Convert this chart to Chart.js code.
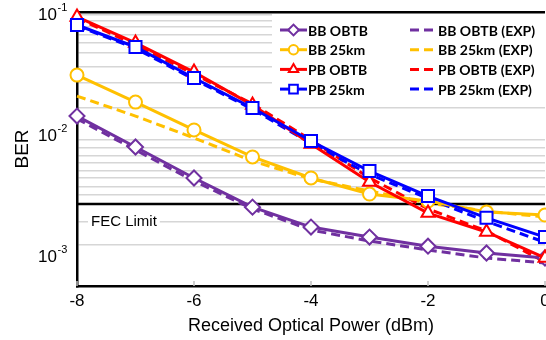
<!DOCTYPE html>
<html>
<head>
<meta charset="utf-8">
<script src="https://cdn.jsdelivr.net/npm/chart.js@4.4.1/dist/chart.umd.min.js"></script>
<style>
    html, body { margin: 0; padding: 0; background: #fff; overflow: hidden; }
    #caixa { position: absolute; left: 0; top: 0; width: 600px; height: 340px; }
</style>
</head>
<body>
<div id="caixa"><canvas id="grafico" width="600" height="340"></canvas></div>
<script>
// Received optical power (dBm)
const power = [-8, -7, -6, -5, -4, -3, -2, -1, 0];

// BER
const bbObtb    = [0.0138, 0.00766, 0.00425, 0.00244, 0.00167, 0.00138, 0.00116, 0.00102, 0.000927];
const bb25km    = [0.0301, 0.0180, 0.0106, 0.00634, 0.00425, 0.00313, 0.00274, 0.00222, 0.00210];
const pbObtb    = [0.091, 0.0555, 0.0319, 0.0170, 0.00811, 0.00394, 0.00218, 0.00152, 0.000927];
const pb25km    = [0.0781, 0.0514, 0.0285, 0.0161, 0.00859, 0.00485, 0.00301, 0.00199, 0.00138];
const bbObtbExp = [0.0131, 0.00724, 0.00401, 0.00236, 0.00158, 0.00128, 0.00108, 0.000927, 0.000843];
const bb25kmExp = [0.0202, 0.0138, 0.0091, 0.00587, 0.00417, 0.00332, 0.00264, 0.00226, 0.00202];
const pbObtbExp = [0.0892, 0.0534, 0.0307, 0.0174, 0.00875, 0.00425, 0.00236, 0.00155, 0.000859];
const pb25kmExp = [0.0770, 0.0500, 0.0278, 0.0157, 0.00820, 0.00455, 0.00288, 0.00186, 0.00125];

const fecLimit = 0.00259;

// axis
const xTicks = [-8, -6, -4, -2, 0];
const yLabels = [0.1, 0.01, 0.001];
const yLabelText = ['-1', '-2', '-3'];
const yGrid = [0.1, 0.0944, 0.0843, 0.0752, 0.0646, 0.0555, 0.0458, 0.0351, 0.0259, 0.0161,
               0.00875, 0.00752, 0.00646, 0.00565, 0.00485, 0.00425, 0.00358, 0.00307, 0.00184, 0.00119];
const yMin = 0.000544;
const yMax = 0.1;

const PURPLE = '#7030A0';
const YELLOW = '#FFC000';
const RED = '#FF0000';
const BLUE = '#0000FF';

function pontos(valores) {
    return valores.map((v, i) => ({ x: power[i], y: v }));
}

function serie(label, valores, cor, estilo, raio, tracejado, ordem) {
    return {
        label: label,
        data: pontos(valores),
        borderColor: cor,
        backgroundColor: '#fff',
        borderWidth: 3,
        borderDash: tracejado ? [9, 5] : [],
        pointStyle: estilo || 'circle',
        pointRadius: estilo ? raio : 0,
        pointBorderWidth: 2,
        pointBackgroundColor: '#fff',
        pointBorderColor: cor,
        tension: 0,
        clip: false, // markers at -8 are not cut in the original
        order: ordem,
    };
}

const datasets = [
    serie('BB OBTB', bbObtb, PURPLE, 'rectRot', 7.5, false, 3),
    serie('BB 25km', bb25km, YELLOW, 'circle', 6.5, false, 2),
    serie('PB OBTB', pbObtb, RED, 'triangle', 7.5, false, 1),
    serie('PB 25km', pb25km, BLUE, 'rect', 8.5, false, 0),
    serie('BB OBTB (EXP)', bbObtbExp, PURPLE, null, 0, true, 7),
    serie('BB 25km (EXP)', bb25kmExp, YELLOW, null, 0, true, 6),
    serie('PB OBTB (EXP)', pbObtbExp, RED, null, 0, true, 5),
    serie('PB 25km (EXP)', pb25kmExp, BLUE, null, 0, true, 4),
    {
        label: 'FEC',
        data: [{ x: -8, y: fecLimit }, { x: 0, y: fecLimit }],
        borderColor: '#000',
        borderWidth: 2.5,
        pointRadius: 0,
        order: 8,
    },
];

// legend, FEC text and y labels drawn by hand
const extras = {
    id: 'extras',
    beforeDatasetsDraw(chart) {
        const ctx = chart.ctx;
        const area = chart.chartArea;
        const escX = chart.scales.x;
        ctx.save();
        // small inside ticks on the x axis
        ctx.strokeStyle = '#bfbfbf';
        ctx.lineWidth = 1.5;
        xTicks.forEach(v => {
            const px = escX.getPixelForValue(v);
            ctx.beginPath();
            ctx.moveTo(px, area.bottom);
            ctx.lineTo(px, area.bottom - 5);
            ctx.stroke();
        });

        // FEC text
        ctx.font = '15px "Liberation Sans", Arial, sans-serif';
        ctx.textBaseline = 'middle';
        const w = ctx.measureText('FEC Limit').width;
        ctx.fillStyle = '#fff';
        ctx.fillRect(88, 213, w + 6, 18);
        ctx.fillStyle = '#000';
        ctx.fillText('FEC Limit', 91, 222);

        // legend
        ctx.fillStyle = '#fff';
        ctx.fillRect(272, 14, 330, 89);
        ctx.font = 'bold 14px Lato, sans-serif';
        ctx.textBaseline = 'middle';
        datasets.slice(0, 8).forEach((ds, i) => {
            const col = i < 4 ? 0 : 1;
            const row = i % 4;
            const x0 = col === 0 ? 280 : 410;
            const y0 = 30 + row * 19.7;
            ctx.strokeStyle = ds.borderColor;
            ctx.lineWidth = 3;
            ctx.setLineDash(ds.borderDash);
            ctx.beginPath();
            ctx.moveTo(x0, y0);
            ctx.lineTo(x0 + 27, y0);
            ctx.stroke();
            ctx.setLineDash([]);
            if (ds.pointRadius > 0) {
                ctx.fillStyle = '#fff';
                ctx.lineWidth = 2;
                Chart.helpers.drawPoint(ctx, {
                    pointStyle: ds.pointStyle,
                    radius: ds.pointRadius * 0.72,
                    rotation: 0,
                    borderWidth: 2,
                }, x0 + 13.5, y0);
            }
            ctx.fillStyle = '#000';
            ctx.fillText(ds.label, x0 + 28, y0 + 1);
        });
        ctx.restore();
    },
    afterDraw(chart) {
        const ctx = chart.ctx;
        const escY = chart.scales.y;
        ctx.save();
        ctx.fillStyle = '#000';
        ctx.textBaseline = 'middle';
        yLabels.forEach((v, i) => {
            const py = escY.getPixelForValue(v);
            ctx.font = '17px "Liberation Sans", Arial, sans-serif';
            ctx.textAlign = 'left';
            ctx.fillText('10', 38, py + 3);
            ctx.font = '11px "Liberation Sans", Arial, sans-serif';
            ctx.fillText(yLabelText[i], 57.5, py - 4);
        });
        ctx.restore();
    }
};

const grafico = new Chart(document.getElementById('grafico'), {
    type: 'line',
    data: { datasets: datasets },
    options: {
        responsive: false,
        animation: false,
        layout: { padding: { left: 0, top: 12, right: 55, bottom: 0 } },
        plugins: {
            legend: { display: false },
            tooltip: { enabled: false },
        },
        scales: {
            x: {
                type: 'linear',
                min: -8,
                max: 0,
                afterBuildTicks: (s) => { s.ticks = xTicks.map(v => ({ value: v })); },
                afterFit: (s) => { s.height = 54; },
                grid: { drawOnChartArea: false, drawTicks: false },
                border: { color: '#000', width: 2.5 },
                ticks: {
                    color: '#000',
                    padding: 5,
                    font: { family: '"Liberation Sans", Arial, sans-serif', size: 17 },
                    callback: (v) => String(v),
                },
                title: {
                    display: true,
                    text: 'Received Optical Power (dBm)',
                    color: '#000',
                    font: { family: '"Liberation Sans", Arial, sans-serif', size: 18 },
                    padding: { top: 0, bottom: 3 },
                },
            },
            y: {
                type: 'logarithmic',
                min: yMin,
                max: yMax,
                afterBuildTicks: (s) => { s.ticks = yGrid.map(v => ({ value: v })); },
                afterFit: (s) => { s.width = 77; },
                ticks: { display: false },
                grid: {
                    drawTicks: false,
                    color: (c) => (c.tick && c.tick.value >= 0.099 ? '#000' : '#d6d6d6'),
                    lineWidth: (c) => (c.tick && c.tick.value >= 0.099 ? 2.5 : 1.5),
                },
                border: { color: '#000', width: 2.5 },
                title: {
                    display: true,
                    text: 'BER',
                    color: '#000',
                    font: { family: '"Liberation Sans", Arial, sans-serif', size: 19 },
                    padding: { top: 11, bottom: 0 },
                },
            },
        },
    },
    plugins: [extras],
});
</script>
</body>
</html>
